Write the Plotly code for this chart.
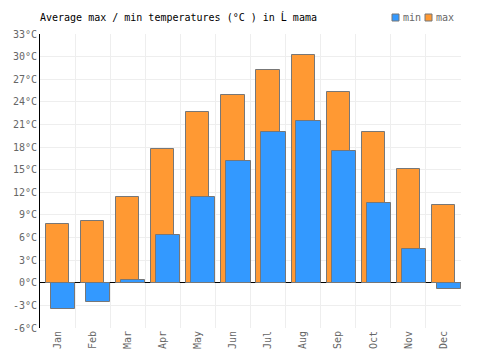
import plotly.graph_objects as go

months = ["Jan", "Feb", "Mar", "Apr", "May", "Jun", "Jul", "Aug", "Sep", "Oct", "Nov", "Dec"]
t_max = [7.8, 8.2, 11.4, 17.8, 22.6, 24.9, 28.2, 30.2, 25.3, 20.0, 15.1, 10.3]
t_min = [-3.5, -2.5, 0.4, 6.4, 11.4, 16.2, 20.0, 21.5, 17.5, 10.6, 4.5, -0.8]
y_ticks = list(range(-6, 34, 3))
y_labels = [f"{v}°C" for v in y_ticks]

C_MAX = "#FF9933"
C_MIN = "#3399FF"
x = list(range(len(months)))
FONT = "DejaVu Sans Mono"

fig = go.Figure()
fig.add_trace(go.Bar(x=x, y=t_max, name="max", marker=dict(color=C_MAX, line=dict(color="#777777", width=1)),
                     offset=-0.33, width=0.66, showlegend=False))
fig.add_trace(go.Bar(x=x, y=t_min, name="min", marker=dict(color=C_MIN, line=dict(color="#777777", width=1)),
                     offset=-0.19, width=0.69, showlegend=False))

# custom compact legend
legend_items = [("min", C_MIN, 392), ("max", C_MAX, 425)]
for name, col, px in legend_items:
    fig.add_shape(type="rect", xref="paper", yref="paper",
                  x0=(px - 40) / 421, x1=(px + 7 - 40) / 421,
                  y0=(328 - 21) / 294, y1=(328 - 14) / 294,
                  fillcolor=col, line=dict(color="#777777", width=1))
    fig.add_annotation(text=name, xref="paper", yref="paper", x=(px + 9 - 40) / 421, y=(328 - 17.5) / 294,
                       xanchor="left", yanchor="middle", showarrow=False,
                       font=dict(family=FONT, size=10, color="#666666"))

fig.update_layout(
    width=500, height=350,
    margin=dict(l=40, r=39, t=34, b=22),
    barmode="overlay",
    plot_bgcolor="white", paper_bgcolor="white",
    font=dict(family=FONT, size=10, color="#666666"),
    title=dict(text="Average max / min temperatures (°C ) in Ĺ mama", x=40 / 500, xanchor="left", y=1 - 17 / 350,
               yanchor="middle", font=dict(family=FONT, size=10, color="#000000")),
    showlegend=False,
    bargap=0,
)
fig.update_xaxes(
    range=[-0.5, 11.5], tickvals=x, ticktext=months, tickangle=-90, showgrid=False, automargin=False,
    ticks="", zeroline=False, showline=False,
    minor=dict(tickvals=[i - 0.5 for i in range(len(months) + 1)], showgrid=True, gridcolor="#EEEEEE", gridwidth=1),
    tickfont=dict(family=FONT, size=10, color="#666666"),
)
fig.update_yaxes(
    range=[-6, 33], tickvals=y_ticks, ticktext=y_labels, showgrid=True, gridcolor="#EEEEEE", gridwidth=1,
    zeroline=True, zerolinecolor="#000000", zerolinewidth=1, automargin=False,
    showline=True, linecolor="#000000", linewidth=1, ticks="",
    tickfont=dict(family=FONT, size=10, color="#666666"),
)
fig.write_html("out.html")
